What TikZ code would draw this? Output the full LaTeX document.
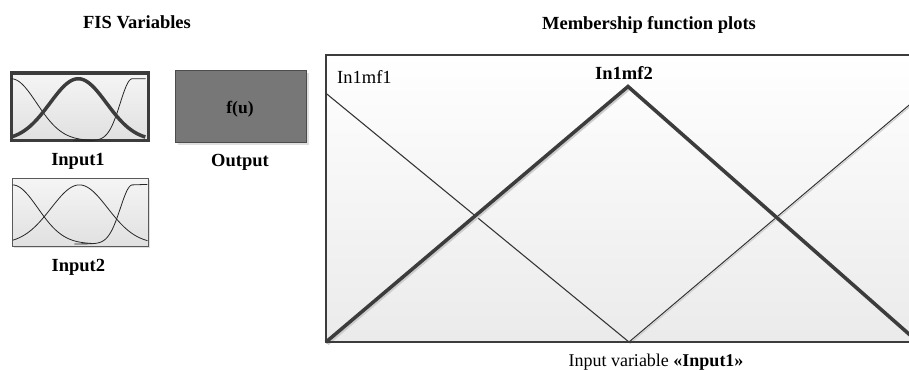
\documentclass[tikz,border=0pt]{standalone}
\usepackage{fontspec}
\setmainfont{Liberation Serif}
\usetikzlibrary{calc,shadows}
\definecolor{edgec}{HTML}{3C3C3C}
\definecolor{outfill}{HTML}{777777}
\begin{document}
\begin{tikzpicture}[x=1pt,y=1pt,
  txt/.style={font=\fontsize{18.5}{20}\selectfont, inner sep=0, anchor=base},
  btxt/.style={txt, font=\fontsize{18.5}{20}\selectfont\bfseries},
  inbox/.style={rectangle, inner sep=0, top color=white!96!black, bottom color=white!88!black,
    drop shadow={shadow xshift=1.5pt, shadow yshift=-1.5pt, fill=black!25, opacity=0.5}},
  thinmf/.style={line width=0.8pt, draw=black!85},
  thickmf/.style={line width=3.5pt, draw=edgec},
  bigthin/.style={line width=1pt, draw=black!80},
]
\useasboundingbox (0,0) rectangle (909,-369);
\clip (0,0) rectangle (909,-369);

% titles
\node[btxt] (t1) at (137,-29) {FIS Variables};
\node[btxt] (t2) at (649,-30) {Membership function plots};

% Input1 box
\node[inbox, draw=edgec, line width=3.5pt, minimum width=137pt, minimum height=67.3pt] (in1) at (80.2,-106.65) {};
\begin{scope}[shift={($(in1.south west)+(1.3,1.3)$)}]
  \draw[thinmf] plot[domain=0:80,samples=60] (\x,{62*exp(-(\x/36)*(\x/36))});
  \draw[thinmf] plot[domain=62:121,samples=60] (\x,{62*exp(-((\x-121)/17)*((\x-121)/17))}) -- (134.4,62);
  \draw[thickmf] plot[domain=0.5:134,samples=90] (\x,{62*exp(-((\x-67)/40)*((\x-67)/40))});
\end{scope}
\node[btxt] (l1) at (78,-165) {Input1};

% Output box
\node[rectangle, inner sep=0, fill=outfill, draw=black!70, line width=1pt,
  minimum width=131.3pt, minimum height=72.3pt,
  drop shadow={shadow xshift=2pt, shadow yshift=-2pt, fill=black!25, opacity=0.5}] (out) at (241.2,-106.7) {};
\node[btxt, font=\fontsize{17.5}{20}\selectfont\bfseries] (fu) at (240,-113.3) {f(u)};
\node[btxt] (lo) at (240,-166.7) {Output};

% Input2 box
\node[inbox, draw=black!65, line width=1.2pt, minimum width=136.6pt, minimum height=68pt] (in2) at (80.5,-212.8) {};
\begin{scope}[shift={($(in2.south west)+(0.8,3.5)$)}]
  \draw[thinmf] plot[domain=0:80,samples=60] (\x,{59*exp(-(\x/36)*(\x/36))});
  \draw[thinmf] plot[domain=0.5:135,samples=90] (\x,{59*exp(-((\x-67)/40)*((\x-67)/40))});
  \draw[thinmf] plot[domain=62:120,samples=60] (\x,{59*exp(-((\x-120)/17)*((\x-120)/17))}) -- (135,59.5);
\end{scope}
\node[btxt] (l2) at (78.3,-271.7) {Input2};

% membership plot box
\node[rectangle, inner sep=0, top color=white, bottom color=white!92!black,
  minimum width=604pt, minimum height=287pt] (mb) at (628,-198.5) {};
\coordinate (m1) at (326,-93.3);
\coordinate (vx) at (629,-342);
\coordinate (m3) at (930,-87.4);
\coordinate (pk) at (628,-86.5);
\coordinate (tr) at (918,-342);
\draw[black!20, line width=1pt] ([shift={(1.2,-1.2)}]m1) -- ([shift={(1.2,-1.2)}]vx) -- ([shift={(1.2,-1.2)}]m3);
\draw[bigthin] (m1) -- (vx) -- (m3);
\draw[black!20, line width=3.5pt] ([shift={(1.5,-1.5)}]mb.south west) -- ([shift={(1.5,-1.5)}]pk) -- ([shift={(1.5,-1.5)}]tr);
\draw[thickmf] (mb.south west) -- (pk) -- (tr);
\draw[edgec, line width=2.2pt] (mb.south west) rectangle (mb.north east);

\node[txt, anchor=base west] (n1) at (337,-83.3) {In1mf1};
\node[btxt] (n2) at (624,-79.3) {In1mf2};
\node[txt, font=\fontsize{18}{20}\selectfont] (xl) at (656,-366.5) {Input variable \textbf{«Input1»}};
\end{tikzpicture}
\end{document}
